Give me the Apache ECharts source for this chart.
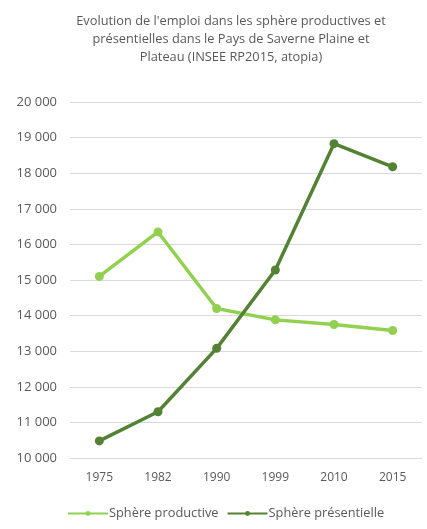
<!DOCTYPE html>
<html>
<head>
<meta charset="utf-8">
<script src="https://cdn.jsdelivr.net/npm/echarts@6/dist/echarts.min.js"></script>
<style>
    html, body { margin: 0; padding: 0; background: #fff; }
    #chart { width: 427px; height: 529px; }
</style>
</head>
<body>
<div id="chart"></div>
<script>
// années
const years = ['1975', '1982', '1990', '1999', '2010', '2015']
// sphère productive
const productive = [15100, 16350, 14200, 13880, 13750, 13580]
// sphère présentielle
const presentielle = [10480, 11300, 13080, 15280, 18830, 18180]

const TEXT_COLOR = '#595959'
const FONT = 'Open Sans'

const myChart = echarts.init(document.getElementById('chart'))

myChart.setOption({
    backgroundColor: '#fff',
    animation: false,
    title: {
        text: "Evolution de l'emploi dans les sphère productives et\nprésentielles dans le Pays de Saverne Plaine et\nPlateau (INSEE RP2015, atopia)",
        left: 226,
        top: 7,
        textAlign: 'center',
        textStyle: {
            color: TEXT_COLOR,
            fontFamily: FONT,
            fontSize: 12.8,
            fontWeight: 'normal',
            lineHeight: 18,
        },
    },
    grid: {
        left: 70,
        right: 5,
        top: 102,
        bottom: 71,
    },
    legend: {
        bottom: 4,
        left: 62,
        itemWidth: 40,
        itemHeight: 6,
        itemGap: 8,
        textStyle: {
            color: TEXT_COLOR,
            fontFamily: FONT,
            fontSize: 12.8,
            padding: [0, 0, 0, -4],
        },
        data: ['Sphère productive', 'Sphère présentielle'],
    },
    xAxis: {
        type: 'category',
        data: years,
        boundaryGap: true,
        axisLine: { lineStyle: { color: '#d9d9d9' } },
        axisTick: { show: false },
        axisLabel: {
            color: TEXT_COLOR,
            fontFamily: FONT,
            fontSize: 12,
            margin: 14,
        },
    },
    yAxis: {
        type: 'value',
        min: 10000,
        max: 20000,
        interval: 1000,
        axisLine: { show: false },
        axisTick: { show: false },
        splitLine: { lineStyle: { color: '#d9d9d9' } },
        axisLabel: {
            color: TEXT_COLOR,
            fontFamily: FONT,
            fontSize: 13,
            margin: 13,
            formatter: v => String(v).replace(/\B(?=(\d{3})+(?!\d))/g, ' '),
        },
    },
    series: [
        {
            name: 'Sphère productive',
            type: 'line',
            data: productive,
            symbol: 'circle',
            symbolSize: 9,
            itemStyle: { color: '#92D050' },
            lineStyle: { width: 3.5, color: '#92D050' },
        },
        {
            name: 'Sphère présentielle',
            type: 'line',
            data: presentielle,
            symbol: 'circle',
            symbolSize: 9,
            itemStyle: { color: '#548235' },
            lineStyle: { width: 3.5, color: '#548235' },
        },
    ],
})
</script>
</body>
</html>
